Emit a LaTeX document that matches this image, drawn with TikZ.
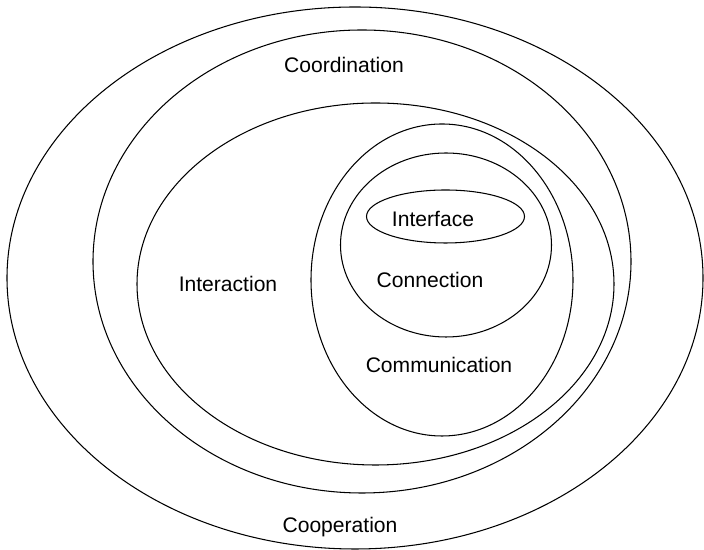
\documentclass[tikz,border=0pt]{standalone}
\usepackage{fontspec}
\setmainfont{Liberation Sans}
\usetikzlibrary{positioning}

\begin{document}
\begin{tikzpicture}[x=0.02cm,y=0.02cm,line width=0.6pt,
  lbl/.style={font=\fontsize{12}{14}\selectfont,inner sep=1pt}]
\useasboundingbox (0,0) rectangle (704,550);
% nested levels, outermost first
\coordinate (Coop) at (355,272);
\coordinate (Coor) at (362,288.5);
\coordinate (Intr) at (375.5,266);
\coordinate (Comm) at (442,270);
\coordinate (Conn) at (446,305);
\coordinate (Intf) at (445.5,333.5);
\draw (Coop) ellipse (348 and 271);
\draw (Coor) ellipse (269 and 231.5);
\draw (Intr) ellipse (238.5 and 181);
\draw (Comm) ellipse (131 and 156);
\draw (Conn) ellipse (105.5 and 92);
\draw (Intf) ellipse (79 and 26.5);
% level names
\node[lbl] (coordination) at (344,485){Coordination};
\node[lbl] (interaction) at (228,266){Interaction};
\node[lbl] (interface) at (433,331){Interface};
\node[lbl] (connection) at (430,270){Connection};
\node[lbl] (communication) at (439,185){Communication};
\node[lbl] (cooperation) at (340,23){Cooperation};
\end{tikzpicture}
\end{document}
